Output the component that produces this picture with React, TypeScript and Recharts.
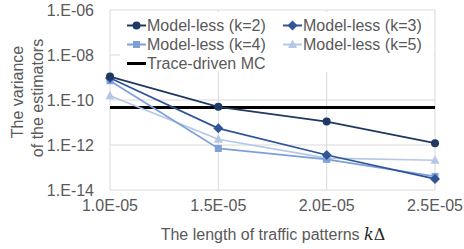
import React from "react";
import {
  LineChart,
  Line,
  XAxis,
  YAxis,
  CartesianGrid,
  Legend,
} from "recharts";

// pattern length kΔ (x axis)
const lengths = [1.0e-5, 1.5e-5, 2.0e-5, 2.5e-5];

// variance of the estimators, per series
const k2 = [1.1e-9, 5.0e-11, 1.1e-11, 1.2e-12];
const k3 = [9.5e-10, 5.5e-12, 3.6e-13, 3.1e-14];
const k4 = [7.2e-10, 7.0e-13, 2.3e-13, 4.0e-14];
const k5 = [1.55e-10, 1.8e-12, 2.6e-13, 2.1e-13];
const mc = [4.7e-11, 4.7e-11, 4.7e-11, 4.7e-11];

const yTicks = [1e-14, 1e-12, 1e-10, 1e-8, 1e-6];

const FONT = "'Liberation Sans', Arial, sans-serif";
const TEXT = "#595959";

const series = [
  { key: "k2", label: "Model-less (k=2)", color: "#1F3864", shape: "circle" },
  { key: "k3", label: "Model-less (k=3)", color: "#2F5597", shape: "diamond" },
  { key: "k4", label: "Model-less (k=4)", color: "#7F9FDA", shape: "square" },
  { key: "k5", label: "Model-less (k=5)", color: "#B4C7E7", shape: "triangle" },
];

const data = lengths.map((x, i) => ({
  x,
  k2: k2[i],
  k3: k3[i],
  k4: k4[i],
  k5: k5[i],
  mc: mc[i],
}));

const pad = (n: number) => String(Math.abs(n)).padStart(2, "0");

const fmtX = (v: number) => {
  const [m, e] = v.toExponential(1).split("e");
  const n = parseInt(e, 10);
  return `${m}E${n < 0 ? "-" : "+"}${pad(n)}`;
};

const fmtY = (v: number) => {
  const n = Math.round(Math.log10(v));
  return `1.E${n < 0 ? "-" : "+"}${pad(n)}`;
};

function Marker({ cx, cy, shape, color }: any) {
  if (cx == null || cy == null) return null;
  if (shape === "circle") return <circle cx={cx} cy={cy} r={4} fill={color} />;
  if (shape === "diamond")
    return (
      <polygon
        points={`${cx},${cy - 5} ${cx + 5},${cy} ${cx},${cy + 5} ${cx - 5},${cy}`}
        fill={color}
      />
    );
  if (shape === "square")
    return <rect x={cx - 3.5} y={cy - 3.5} width={7} height={7} fill={color} />;
  return (
    <polygon
      points={`${cx},${cy - 5} ${cx + 4.5},${cy + 3.5} ${cx - 4.5},${cy + 3.5}`}
      fill={color}
    />
  );
}

function LegendBox() {
  const items = [
    ...series.map((s, i) => ({ ...s, col: i % 2, row: Math.floor(i / 2) })),
    { key: "mc", label: "Trace-driven MC", color: "#000", shape: "none", col: 0, row: 2 },
  ];
  return (
    <div style={{ position: "relative", width: 314, height: 60, background: "#fff" }}>
      {items.map((it) => (
        <div
          key={it.key}
          style={{
            position: "absolute",
            left: it.col ? 163 : 7,
            top: 4 + it.row * 19,
            height: 19,
            display: "flex",
            alignItems: "center",
            whiteSpace: "nowrap",
            fontFamily: FONT,
            fontSize: 16,
            color: TEXT,
          }}
        >
          <svg width={19} height={19}>
            <line
              x1={0}
              x2={19}
              y1={9.5}
              y2={9.5}
              stroke={it.color}
              strokeWidth={it.key === "mc" ? 3 : 2}
            />
            {it.shape !== "none" && (
              <Marker cx={9.5} cy={9.5} shape={it.shape} color={it.color} />
            )}
          </svg>
          <span style={{ marginLeft: 1 }}>{it.label}</span>
        </div>
      ))}
    </div>
  );
}

export default function App() {
  return (
    <div style={{ position: "absolute", left: 0, top: 0, width: 464, height: 249, background: "#fff" }}>
      <LineChart
        width={464}
        height={249}
        data={data}
        margin={{ top: 10, right: 29, bottom: 0, left: 0 }}
      >
        <CartesianGrid stroke="#D9D9D9" strokeWidth={1} />
        <XAxis
          dataKey="x"
          type="number"
          domain={[1.0e-5, 2.5e-5]}
          ticks={lengths}
          tickFormatter={fmtX}
          axisLine={false}
          tickLine={false}
          tickSize={6}
          tickMargin={4}
          height={59}
          tick={{ fill: TEXT, fontSize: 16, fontFamily: FONT }}
        />
        <YAxis
          type="number"
          scale="log"
          domain={[1e-14, 1e-6]}
          allowDataOverflow
          ticks={yTicks}
          tickFormatter={fmtY}
          axisLine={false}
          tickLine={false}
          tickSize={6}
          tickMargin={10}
          width={110}
          tick={{ fill: TEXT, fontSize: 16, fontFamily: FONT }}
        />
        <Legend
          layout="vertical"
          align="center"
          verticalAlign="middle"
          content={<LegendBox />}
          wrapperStyle={{ left: 120, top: 12, width: 314, height: 60 }}
        />
        <Line
          dataKey="mc"
          stroke="#000"
          strokeWidth={3}
          dot={false}
          isAnimationActive={false}
        />
        {[...series].reverse().map((s) => (
          <Line
            key={s.key}
            dataKey={s.key}
            stroke={s.color}
            strokeWidth={1.75}
            dot={(p: any) => (
              <Marker key={`${s.key}-${p.index}`} cx={p.cx} cy={p.cy} shape={s.shape} color={s.color} />
            )}
            activeDot={false}
            isAnimationActive={false}
          />
        ))}
        <text
          transform="translate(17,92) rotate(-90)"
          textAnchor="middle"
          dy="0.35em"
          fill={TEXT}
          fontSize={16}
          fontFamily={FONT}
        >
          The variance
        </text>
        <text
          transform="translate(37,98) rotate(-90)"
          textAnchor="middle"
          dy="0.35em"
          fill={TEXT}
          fontSize={16}
          fontFamily={FONT}
        >
          of the estimators
        </text>
        <text x={273} y={240} textAnchor="middle" fill={TEXT} fontSize={16} fontFamily={FONT}>
          The length of traffic patterns{" "}
          <tspan fontFamily="'DejaVu Serif', serif" fontStyle="italic" fill="#222">
            k
          </tspan>
          <tspan fontFamily="'DejaVu Serif', serif" fill="#222">
            Δ
          </tspan>
        </text>
      </LineChart>
    </div>
  );
}
